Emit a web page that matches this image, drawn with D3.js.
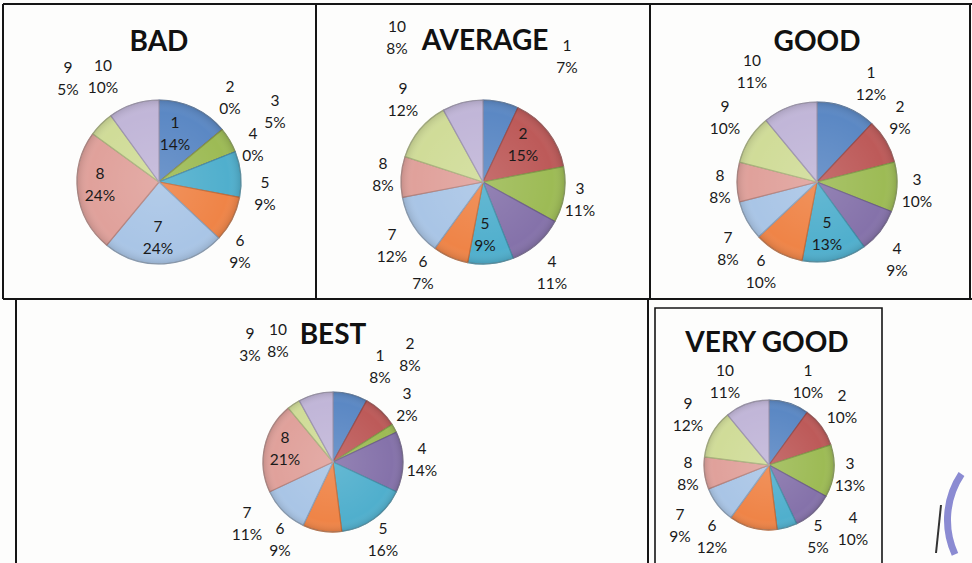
<!DOCTYPE html>
<html>
<head>
<meta charset="utf-8">
<script src="https://cdn.jsdelivr.net/npm/d3@7"></script>
<style>
  body { margin: 0; background: #fdfdfc; }
  .title { font-family: Lato, "Open Sans", sans-serif; font-weight: bold; fill: #111; }
  .lbl { font-family: Lato, "Open Sans", sans-serif; font-size: 15.5px; fill: #1a1a1a; }
</style>
</head>
<body>
<div class="chart"></div>
<script>
var svgWidth = 972;
var svgHeight = 563;

// slice names and the five rating groups
var sliceNames = ["1", "2", "3", "4", "5", "6", "7", "8", "9", "10"];
var badValues = [14, 0, 5, 0, 9, 9, 24, 24, 5, 10];
var averageValues = [7, 15, 11, 11, 9, 7, 12, 8, 12, 8];
var goodValues = [12, 9, 10, 9, 13, 10, 8, 8, 10, 11];
var bestValues = [8, 8, 2, 14, 16, 9, 11, 21, 3, 8];
var veryGoodValues = [10, 10, 13, 10, 5, 12, 9, 8, 12, 11];
var chartTitles = ["BAD", "AVERAGE", "GOOD", "BEST", "VERY GOOD"];

// excel 2007 palette, a bit washed out like the scan
var sliceColors = ["#5b88c4", "#bd5a59", "#9dbb55", "#8572aa", "#50afcd",
                   "#ef8447", "#a9c5e6", "#e0a19b", "#d0dc98", "#c1b6d8"];

// where each pie sits and where excel dropped its labels (offset from centre)
var panels = [
  { values: badValues, cx: 159, cy: 182, r: 82, tx: 159, ty: 51,
    labels: [[16,-49],[71,-85],[116,-71],[94,-38],[106,11],[81,69],[-1,55],[-59,2],[-91,-104],[-56,-106]] },
  { values: averageValues, cx: 483, cy: 182, r: 82, tx: 485, ty: 50,
    labels: [[84,-126],[40,-38],[97,17],[69,90],[2,52],[-60,90],[-91,63],[-100,-8],[-80,-83],[-86,-145]] },
  { values: goodValues, cx: 817, cy: 182, r: 80, tx: 817, ty: 51,
    labels: [[54,-99],[83,-65],[100,8],[80,77],[10,51],[-56,89],[-89,66],[-97,4],[-92,-65],[-65,-111]] },
  { values: bestValues, cx: 333, cy: 462, r: 70, tx: 333, ty: 344,
    labels: [[47,-96],[77,-108],[74,-58],[89,-3],[50,77],[-53,77],[-86,61],[-48,-14],[-83,-118],[-55,-122]] },
  { values: veryGoodValues, cx: 769, cy: 465, r: 65, tx: 767, ty: 352,
    labels: [[39,-84],[73,-59],[81,9],[84,63],[49,71],[-57,71],[-89,60],[-81,8],[-81,-51],[-44,-84]] }
];

var svg = d3.select(".chart")
  .append("svg")
  .attr("width", svgWidth)
  .attr("height", svgHeight);

// soft shading on top of each pie
var defs = svg.append("defs");
var shade = defs.append("radialGradient").attr("id", "shade");
shade.append("stop").attr("offset", "0%").attr("stop-color", "#fff").attr("stop-opacity", 0.12);
shade.append("stop").attr("offset", "85%").attr("stop-color", "#fff").attr("stop-opacity", 0.0);
shade.append("stop").attr("offset", "100%").attr("stop-color", "#000").attr("stop-opacity", 0.12);

// frame lines of the scanned table
var frame = svg.append("g")
  .attr("stroke", "#151515")
  .attr("stroke-width", 2)
  .attr("fill", "none");

frame.append("path").attr("d", "M3,4 H972 M3,4 V299 M316,4 V299 M650,4 V299 M970,4 V299 M3,299 H972");
frame.append("path").attr("d", "M16,299 V563 M648,299 V563");
frame.append("path").attr("d", "M655,568 V308 H882 V568").attr("stroke-width", 1.6);

var pie = d3.pie().sort(null).value(d => d);
var pct = d3.format(".0%");

panels.forEach(function (p, i) {
  var g = svg.append("g")
    .attr("transform", `translate(${p.cx}, ${p.cy})`);

  var arc = d3.arc().innerRadius(0).outerRadius(p.r);
  var total = d3.sum(p.values);

  g.selectAll("path.slice")
    .data(pie(p.values))
    .enter()
    .append("path")
    .attr("class", "slice")
    .attr("d", arc)
    .attr("fill", (d, j) => sliceColors[j])
    .attr("stroke", (d, j) => d3.color(sliceColors[j]).darker(0.6))
    .attr("stroke-width", 1.2)
    .attr("stroke-linejoin", "round");

  g.append("circle")
    .attr("r", p.r)
    .attr("fill", "url(#shade)")
    .attr("stroke", "#9a9a9a")
    .attr("stroke-opacity", 0.5)
    .attr("stroke-width", 0.8);

  var labels = g.selectAll("text.lbl")
    .data(p.values)
    .enter()
    .append("text")
    .attr("class", "lbl")
    .attr("text-anchor", "middle")
    .attr("transform", (d, j) => `translate(${p.labels[j][0]}, ${p.labels[j][1]})`);

  labels.append("tspan")
    .attr("x", 0)
    .attr("y", -5)
    .text((d, j) => sliceNames[j]);

  labels.append("tspan")
    .attr("x", 0)
    .attr("y", 17)
    .text(d => pct(d / total));

  svg.append("text")
    .attr("class", "title")
    .attr("x", p.tx)
    .attr("y", p.ty)
    .attr("text-anchor", "middle")
    .attr("font-size", 28)
    .text(chartTitles[i]);
});

// bit of the office stamp poking in at the right edge
svg.append("path")
  .attr("d", d3.arc()({ innerRadius: 79, outerRadius: 86, startAngle: -2.0, endAngle: -0.98 }))
  .attr("transform", "translate(1030, 520)")
  .attr("fill", "#5a5ac0")
  .attr("opacity", 0.7);

svg.append("path")
  .attr("d", "M941,505 L936,553")
  .attr("stroke", "#333")
  .attr("stroke-width", 2);
</script>
</body>
</html>
